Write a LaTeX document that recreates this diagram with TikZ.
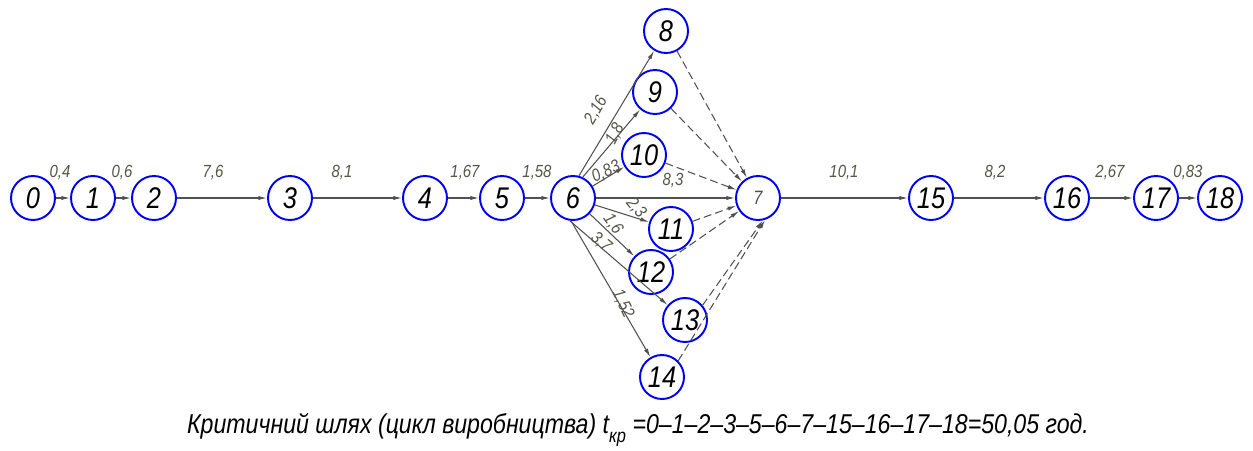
\documentclass[tikz,border=0pt]{standalone}
\usepackage{fontspec}
\usepackage{tikz}
\usetikzlibrary{arrows.meta}
\newfontfamily\gost[FakeStretch=0.85]{Liberation Sans}
\definecolor{EventBlue}{HTML}{0000F0}
\definecolor{ArcGray}  {HTML}{505050}
\definecolor{LabelGray}{HTML}{55554A}
\begin{document}
\begin{tikzpicture}[x=0.02cm,y=-0.02cm,
  ev/.style={circle,draw=EventBlue,line width=1.1pt,minimum size=0.88cm,inner sep=0pt,
             font=\gost\itshape\fontsize{17}{17}\selectfont},
  arr/.style={-{Latex[length=5pt,width=2.4pt]},color=ArcGray,line width=0.6pt},
  fict/.style={arr,dash pattern=on 4.5pt off 2.3pt},
  lbl/.style={text=LabelGray,inner sep=0pt,font=\gost\itshape\fontsize{10}{10}\selectfont}
]
  \useasboundingbox (0,0) rectangle (1253,450);

  % main chain of events
  \node[ev] (e0)  at (33,198)   {0};
  \node[ev] (e1)  at (93,198)   {1};
  \node[ev] (e2)  at (154,198)  {2};
  \node[ev] (e3)  at (290,198)  {3};
  \node[ev] (e4)  at (425,198)  {4};
  \node[ev] (e5)  at (502,198)  {5};
  \node[ev] (e6)  at (573,198)  {6};
  \node[ev,font=\gost\itshape\fontsize{11}{11}\selectfont,text=ArcGray] (e7) at (758,198) {7};
  \node[ev] (e15) at (931,198)  {15};
  \node[ev] (e16) at (1067,198) {16};
  \node[ev] (e17) at (1156,198) {17};
  \node[ev] (e18) at (1220,198) {18};

  % parallel works
  \node[ev] (e8)  at (666,31)  {8};
  \node[ev] (e9)  at (655,92)  {9};
  \node[ev] (e10) at (644,155) {10};
  \node[ev] (e11) at (671,229) {11};
  \node[ev] (e12) at (651,272) {12};
  \node[ev] (e13) at (685,320) {13};
  \node[ev] (e14) at (662,377) {14};

  \draw[arr] (e0)--(e1); \draw[arr] (e1)--(e2); \draw[arr] (e2)--(e3);
  \draw[arr] (e3)--(e4); \draw[arr] (e4)--(e5); \draw[arr] (e5)--(e6);
  \draw[arr] (e6)--(e7); \draw[arr] (e7)--(e15); \draw[arr] (e15)--(e16);
  \draw[arr] (e16)--(e17); \draw[arr] (e17)--(e18);

  \draw[arr] (e6.75)--(e8); \draw[arr] (e6.65)--(e9); \draw[arr] (e6)--(e10);
  \draw[arr] (e6)--(e11); \draw[arr] (e6)--(e12);
  \draw[arr] (e6.262)--(e13); \draw[arr] (e6.265)--(e14);

  \draw[fict] (e8)--(e7); \draw[fict] (e9)--(e7); \draw[fict] (e10)--(e7);
  \draw[fict] (e11)--(e7); \draw[fict] (e12)--(e7);
  \draw[fict] (e13.40)--(e7.282); \draw[fict] (e14.45)--(e7.288);

  % durations
  \node[lbl] (t01)   at (60,172)   {0,4};
  \node[lbl] (t12)   at (122,172)  {0,6};
  \node[lbl] (t23)   at (213,172)  {7,6};
  \node[lbl] (t34)   at (342,172)  {8,1};
  \node[lbl] (t45)   at (465,172)  {1,67};
  \node[lbl] (t56)   at (537,172)  {1,58};
  \node[lbl] (t715)  at (844,172)  {10,1};
  \node[lbl] (t1516) at (995,172)  {8,2};
  \node[lbl] (t1617) at (1110,172) {2,67};
  \node[lbl] (t1718) at (1188,172) {0,83};
  \node[lbl,rotate=60]  (t68)  at (596,110) {2,16};
  \node[lbl,rotate=62]  (t69)  at (615,134) {1,8};
  \node[lbl,rotate=25]  (t610) at (606,172) {0,83};
  \node[lbl]            (t67)  at (673,180) {8,3};
  \node[lbl,rotate=-50] (t611) at (636,208) {2,3};
  \node[lbl,rotate=-55] (t612) at (613,224) {1,6};
  \node[lbl,rotate=-40] (t613) at (601,242) {3,7};
  \node[lbl,rotate=-65] (t614) at (623,304) {1,52};

  \node[inner sep=0pt,font=\gost\itshape\fontsize{15.5}{16}\selectfont] (crit) at (638,430)
    {Критичний шлях (цикл виробництва) t\raisebox{-0.6ex}{\fontsize{11}{11}\selectfont кр} =0–1–2–3–5–6–7–15–16–17–18=50,05 год.};
\end{tikzpicture}
\end{document}
